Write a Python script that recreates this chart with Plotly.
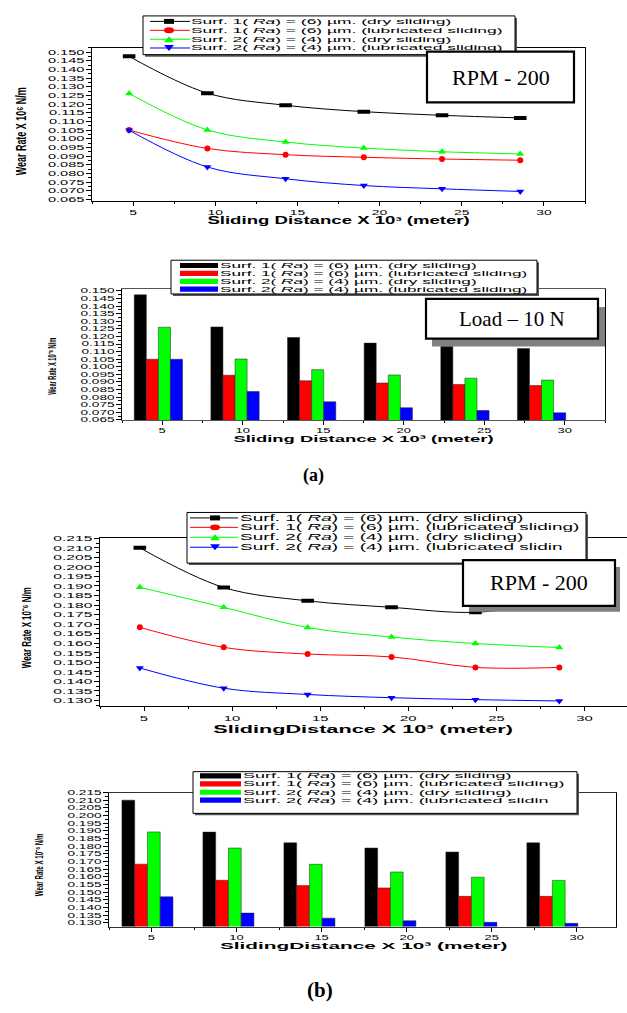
import json
import plotly.graph_objects as go

W, H = 627, 1013


def fx(p):
    return p / W


def fy(p):
    return 1 - p / H


# ---------------- data ----------------
dist = [4.76, 9.52, 14.28, 19.04, 23.80, 28.56]
tick_vals_x = [5, 10, 15, 20, 25, 30]

# (a)
s1_dry_a = [0.1475, 0.1263, 0.1193, 0.1156, 0.1135, 0.1120]
s1_lub_a = [0.1050, 0.0944, 0.0908, 0.0893, 0.0883, 0.0876]
s2_dry_a = [0.1261, 0.1051, 0.0981, 0.0946, 0.0925, 0.0912]
s2_lub_a = [0.1049, 0.0837, 0.0769, 0.0730, 0.0711, 0.0696]

# (b)
s1_dry_b = [0.2100, 0.1892, 0.1822, 0.1788, 0.1762, 0.1822]
s1_lub_b = [0.1683, 0.1578, 0.1543, 0.1528, 0.1473, 0.1473]
s2_dry_b = [0.1893, 0.1788, 0.1682, 0.1632, 0.1598, 0.1577]
s2_lub_b = [0.1470, 0.1364, 0.1331, 0.1314, 0.1304, 0.1297]

names_a = [
    "Surf. 1( {ra}) = (6) µm. (dry sliding)",
    "Surf. 1( {ra}) = (6) µm. (lubricated sliding)",
    "Surf. 2( {ra}) = (4) µm. (dry sliding)",
    "Surf. 2( {ra}) = (4) µm. (lubricated sliding)",
]
names_b = [
    "Surf. 1( {ra}) = (6) µm. (dry sliding)",
    "Surf. 1( {ra}) = (6) µm. (lubricated sliding)",
    "Surf. 2( {ra}) = (4) µm. (dry sliding)",
    "Surf. 2( {ra}) = (4) µm. (lubricated slidin",
]
series_a = [s1_dry_a, s1_lub_a, s2_dry_a, s2_lub_a]
series_b = [s1_dry_b, s1_lub_b, s2_dry_b, s2_lub_b]

colors = ["#000000", "#ff0000", "#00ff00", "#0000ff"]
symbols = ["square", "circle", "triangle-up", "triangle-down"]
trace_markers = [
    dict(symbol="line-ew-open", size=9, line=dict(width=4, color=colors[0])),
    dict(symbol="circle", size=6, color=colors[1]),
    dict(symbol="triangle-up", size=7, color=colors[2]),
    dict(symbol="triangle-down", size=7, color=colors[3]),
]

fig = go.Figure()


def plain(n):
    return n.format(ra="Ra")


def add_lines(series, names, xa, ya):
    for i in range(4):
        fig.add_trace(go.Scatter(
            x=dist, y=series[i], mode="lines+markers", xaxis=xa, yaxis=ya,
            line=dict(color=colors[i], width=1, shape="spline", smoothing=1.0),
            marker=trace_markers[i], showlegend=False, name=plain(names[i])))


def add_bars(series, names, xa, ya):
    for i in range(4):
        fig.add_trace(go.Bar(
            x=dist, y=series[i], xaxis=xa, yaxis=ya,
            marker=dict(color=colors[i], line=dict(width=0.5, color="#222222")),
            showlegend=False, name=plain(names[i])))


add_lines(series_a, names_a, "x", "y")
add_bars(series_a, names_a, "x2", "y2")
add_lines(series_b, names_b, "x3", "y3")
add_bars(series_b, names_b, "x4", "y4")

TF = "Liberation Sans, Arial, sans-serif"


def xax(dom, rng, anchor, size, mirror=True, lc="black"):
    return dict(domain=dom, range=rng, anchor=anchor, tickvals=tick_vals_x,
                ticks="outside", ticklen=4, tickcolor="black",
                minor=dict(dtick=2.5, tick0=0, ticks="outside", ticklen=2, tickcolor="black"),
                showline=True, mirror=mirror, linecolor=lc, linewidth=1,
                showgrid=False, zeroline=False,
                tickfont=dict(family=TF, size=size, color="black"))


def yax(dom, rng, anchor, size, mirror=True):
    return dict(domain=dom, range=rng, anchor=anchor, dtick=0.005, tick0=0,
                tickformat=".3f", ticks="outside", ticklen=5, tickcolor="black",
                minor=dict(dtick=0.0025, tick0=0, ticks="outside", ticklen=3, tickcolor="black"),
                showline=True, mirror=mirror, linecolor="black", linewidth=1,
                showgrid=False, zeroline=False,
                tickfont=dict(family=TF, size=size, color="black"))


layout = dict(
    width=W, height=H, margin=dict(l=0, r=0, t=0, b=0),
    paper_bgcolor="white", plot_bgcolor="white",
    barmode="group", bargap=0.37, bargroupgap=0,
    showlegend=False,
    xaxis=xax([fx(92), fx(585)], [2.5, 32.5], "y", 7.5),
    yaxis=yax([fy(198), fy(44)], [0.0643, 0.1525], "x", 7.5),
    xaxis2=xax([fx(122), fx(605)], [2.5, 32.5], "y2", 7, lc="#555555"),
    yaxis2=yax([fy(419), fy(287)], [0.0648, 0.1513], "x2", 7),
    xaxis3=xax([fx(100), 1.0], [2.5, 32.4], "y3", 8),
    yaxis3=yax([fy(707), fy(538)], [0.127, 0.215], "x3", 8, mirror=False),
    xaxis4=xax([fx(109), fx(616)], [2.5, 32.3], "y4", 7, lc="#333333"),
    yaxis4=yax([fy(929), fy(794)], [0.1276, 0.215], "x4", 7),
)
fig.update_layout(**layout)

shapes = []
annotations = []
css = ["html,body{margin:0;padding:0;overflow:hidden}"]


def add_ann(**kw):
    kw.setdefault("xref", "paper")
    kw.setdefault("yref", "paper")
    kw.setdefault("xanchor", "center")
    kw.setdefault("yanchor", "middle")
    kw.setdefault("showarrow", False)
    annotations.append(kw)
    return len(annotations) - 1


def stretch(idx, k, origin):
    css.append(f'g.annotation[data-index="{idx}"] text{{transform-box:fill-box;'
               f'transform-origin:{origin};transform:scaleX({k})}}')


def rect(x0, y0, x1, y1, fill, lw=0, lc="black"):
    shapes.append(dict(type="rect", xref="paper", yref="paper",
                       x0=fx(x0), x1=fx(x1), y0=fy(y1), y1=fy(y0),
                       fillcolor=fill, line=dict(width=lw, color=lc), layer="above"))


def marker_shape(kind, cx, cy, color, w=10, h=6):
    if kind == "square":
        rect(cx - w / 2, cy - 2.5, cx + w / 2, cy + 2.5, color)
    elif kind == "circle":
        shapes.append(dict(type="circle", xref="paper", yref="paper",
                           x0=fx(cx - w / 2), x1=fx(cx + w / 2),
                           y0=fy(cy + h / 2), y1=fy(cy - h / 2),
                           fillcolor=color, line=dict(width=0), layer="above"))
    else:
        if kind == "triangle-up":
            pts = [(cx - w / 2, cy + h / 2), (cx + w / 2, cy + h / 2), (cx, cy - h / 2)]
        else:
            pts = [(cx - w / 2, cy - h / 2), (cx + w / 2, cy - h / 2), (cx, cy + h / 2)]
        path = "M " + " L ".join(f"{fx(a):.5f},{fy(b):.5f}" for a, b in pts) + " Z"
        shapes.append(dict(type="path", xref="paper", yref="paper", path=path,
                           fillcolor=color, line=dict(width=0), layer="above"))


def legend(box, rows, names, kind, sx0, sx1, mx, tx, fsize, k):
    x0, y0, x1, y1 = box
    rect(x0 + 2, y0 + 2, x1 + 2, y1 + 2, "#555555")
    rect(x0, y0, x1, y1, "white", 1, "black")
    for i, ry in enumerate(rows):
        if kind == "line":
            shapes.append(dict(type="line", xref="paper", yref="paper",
                               x0=fx(sx0), x1=fx(sx1), y0=fy(ry), y1=fy(ry),
                               line=dict(color=colors[i], width=1), layer="above"))
            marker_shape(symbols[i], mx, ry, colors[i])
        else:
            rect(sx0, ry - 2.6, sx1, ry + 2.6, colors[i])
        idx = add_ann(text=names[i].format(ra="<i>Ra</i>"), x=fx(tx), y=fy(ry),
                      xanchor="left", align="left", borderpad=0,
                      font=dict(family=TF, size=fsize, color="black"))
        stretch(idx, k, "0% 50%")


legend((143, 12, 515, 51), [17.5, 26.5, 35.5, 44.3], names_a, "line", 150, 190, 169, 190, 8, 2.18)
legend((171, 258, 537, 292), [263.3, 271.2, 279.3, 287.1], names_a, "bar", 180, 218, 0, 219, 7.5, 2.29)
legend((187, 512, 586, 563), [517.5, 527, 537, 547], names_b, "line", 190, 238, 215, 239, 9, 2.11)
legend((193, 773, 577, 815), [777.3, 785.3, 793.7, 801.7], names_b, "bar", 200, 241, 0, 242, 7.5, 2.4)

# info boxes
SERIF = "Liberation Serif, Times New Roman, serif"
rect(427, 48, 574, 99, "white", 2.2, "black")
add_ann(text="RPM - 200", x=fx(500.5), y=fy(74),
        font=dict(family=SERIF, size=22, color="black"))
rect(432, 305, 605, 345, "#808080")
rect(426, 297, 598, 337, "white", 2.2, "black")
add_ann(text="Load – 10 N", x=fx(512), y=fy(317),
        font=dict(family=SERIF, size=21, color="black"))
rect(469, 567, 620, 612, "#808080")
rect(463, 560, 615, 606, "white", 2.2, "black")
add_ann(text="RPM - 200", x=fx(539), y=fy(583),
        font=dict(family=SERIF, size=22, color="black"))

# axis titles (unicode superscripts)
ytitles = [
    ("Wear Rate X 10⁶ N/m", 21, 128, 14, 0.64),
    ("Wear Rate X 10⁻⁶ N/m", 52, 365, 11, 0.51),
    ("Wear Rate X 10⁻⁶ N/m", 27, 628, 13, 0.61),
    ("Wear Rate X 10⁻⁶ N/m", 39, 867, 11, 0.56),
]
for t, x, y, s, k in ytitles:
    idx = add_ann(text=t, x=fx(x), y=fy(y), textangle=-90,
                  font=dict(family=TF, size=s, color="black", weight="bold"))
    stretch(idx, k, "50% 50%")

xtitles = [
    ("Sliding Distance X 10³ (meter)", 338, 218, 10, 1.86),
    ("Sliding Distance X 10³ (meter)", 363, 438, 9, 2.05),
    ("SlidingDistance X 10³ (meter)", 363, 730, 11, 1.97),
    ("SlidingDistance X 10³ (meter)", 363, 948, 9.5, 2.19),
]
for t, x, y, s, k in xtitles:
    idx = add_ann(text=t, x=fx(x), y=fy(y),
                  font=dict(family=TF, size=s, color="black", weight="bold"))
    stretch(idx, k, "50% 50%")

add_ann(text="(a)", x=fx(313), y=fy(475),
        font=dict(family=SERIF, size=18, color="black", weight="bold"))
add_ann(text="(b)", x=fx(320), y=fy(993),
        font=dict(family=SERIF, size=21, color="black", weight="bold"))

fig.update_layout(shapes=shapes, annotations=annotations)

# horizontally stretched tick labels (like the exported Origin graphs)
for ax in ["x", "x2", "x3", "x4"]:
    css.append(f"g.{ax}tick{{transform-box:fill-box;transform-origin:50% 50%;transform:scaleX(1.85)}}")
for ax in ["y", "y2", "y3", "y4"]:
    css.append(f"g.{ax}tick{{transform-box:fill-box;transform-origin:100% 50%;transform:scaleX(1.95)}}")

css_text = "\n".join(css)
post = ("var s=document.createElement('style');s.textContent=" + json.dumps(css_text) +
        ";document.head.appendChild(s);")

fig.write_html("out.html", post_script=post, config={"displayModeBar": False})
